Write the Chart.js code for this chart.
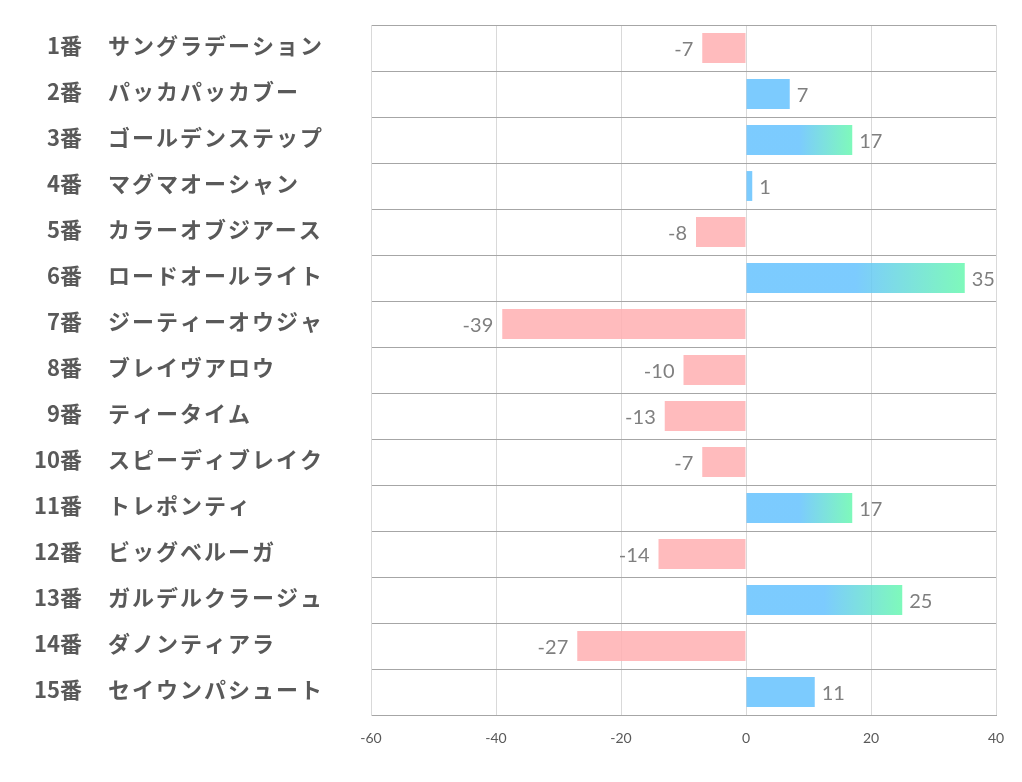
<!DOCTYPE html>
<html><head><meta charset="utf-8">
<script src="https://cdn.jsdelivr.net/npm/chart.js@4/dist/chart.umd.min.js"></script>
<style>html,body{margin:0;padding:0;background:#fff;overflow:hidden}canvas{display:block}</style>
</head><body>
<canvas id="c" width="1022" height="782"></canvas>
<script>
const numbers = ['1番','2番','3番','4番','5番','6番','7番','8番','9番','10番','11番','12番','13番','14番','15番'];
const names = ['サングラデーション','パッカパッカブー','ゴールデンステップ','マグマオーシャン','カラーオブジアース','ロードオールライト','ジーティーオウジャ','ブレイヴアロウ','ティータイム','スピーディブレイク','トレポンティ','ビッグベルーガ','ガルデルクラージュ','ダノンティアラ','セイウンパシュート'];
const values = [-7, 7, 17, 1, -8, 35, -39, -10, -13, -7, 17, -14, 25, -27, 11];
const xTicks = [-60, -40, -20, 0, 20, 40];

const PINK = 'rgba(255,175,178,0.85)';
const BLUE = 'rgba(101,194,254,0.85)';
const GREEN = 'rgba(104,248,175,0.85)';

function barColor(ctx) {
  const v = ctx.raw;
  if (v < 0) return PINK;
  if (v < 15) return BLUE;
  const chart = ctx.chart, xs = chart.scales.x;
  if (!xs || !chart.chartArea) return BLUE;
  const x0 = xs.getPixelForValue(0), x1 = xs.getPixelForValue(v);
  const g = chart.ctx.createLinearGradient(x0, 0, x1, 0);
  g.addColorStop(0, BLUE); g.addColorStop(0.5, BLUE); g.addColorStop(1, GREEN);
  return g;
}

const labelsPlugin = {
  id: 'labelsPlugin',
  afterDatasetsDraw(chart) {
    const ctx = chart.ctx;
    ctx.save();
    ctx.font = '20px Lato';
    ctx.fillStyle = '#7f7f7f';
    ctx.textBaseline = 'middle';
    chart.getDatasetMeta(0).data.forEach((bar, i) => {
      const v = values[i];
      if (v < 0) { ctx.textAlign = 'right'; ctx.fillText(String(v), bar.x - 9, bar.y + 2); }
      else { ctx.textAlign = 'left'; ctx.fillText(String(v), bar.x + 7, bar.y + 2); }
    });
    ctx.restore();
  },
  afterDraw(chart) {
    const ctx = chart.ctx, ys = chart.scales.y;
    ctx.save();
    ctx.font = 'bold 22px "Noto Sans CJK JP"';
    ctx.fillStyle = '#595959';
    ctx.textBaseline = 'middle';
    numbers.forEach((n, i) => {
      const y = ys.getPixelForTick(i) - 2;
      ctx.letterSpacing = '0px';
      ctx.textAlign = 'right'; ctx.fillText(n, 82, y);
      ctx.letterSpacing = '2px';
      ctx.textAlign = 'left'; ctx.fillText(names[i], 108, y);
    });
    ctx.restore();
  }
};

new Chart(document.getElementById('c'), {
  type: 'bar',
  data: { labels: numbers, datasets: [{ data: values, backgroundColor: barColor, borderWidth: 0, barPercentage: 0.65, categoryPercentage: 1 }] },
  options: {
    indexAxis: 'y', responsive: false, animation: false,
    layout: { padding: { top: 25, right: 26, left: 0, bottom: 0 } },
    plugins: { legend: { display: false }, tooltip: { enabled: false } },
    scales: {
      x: {
        min: -60, max: 40,
        afterBuildTicks: s => { s.ticks = xTicks.map(v => ({ value: v })); },
        afterFit: s => { s.height = 67; },
        grid: { color: '#d9d9d9', drawTicks: false },
        border: { color: '#a6a6a6' },
        ticks: { padding: 15, color: '#595959', font: { family: 'Lato', size: 14 } }
      },
      y: {
        afterFit: s => { s.width = 371; },
        grid: { color: '#a6a6a6', offset: true, drawTicks: false },
        border: { color: '#d9d9d9' },
        ticks: { display: false }
      }
    }
  },
  plugins: [labelsPlugin]
});
</script>
</body></html>
